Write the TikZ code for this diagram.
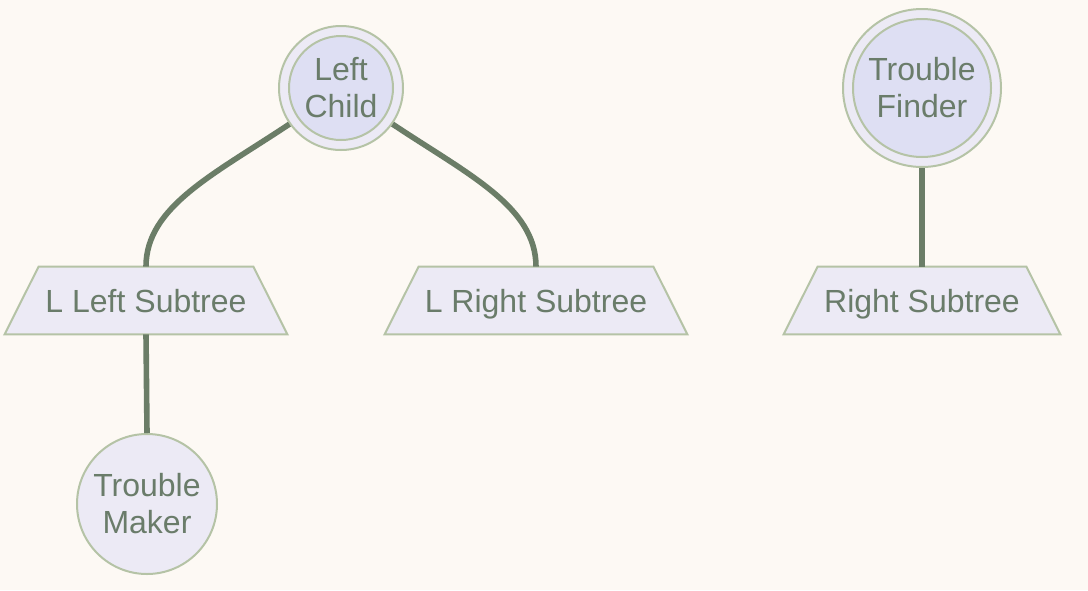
\documentclass[tikz,border=0pt]{standalone}
\usepackage{fontspec}
\setmainfont{Liberation Sans}
\usetikzlibrary{backgrounds}

\definecolor{bgcol}{HTML}{FDF9F4}
\definecolor{nodefill}{HTML}{ECEAF5}
\definecolor{innerfill}{HTML}{DEDFF3}
\definecolor{nodeline}{HTML}{B5C3A6}
\definecolor{txtcol}{HTML}{6A7C6A}
\definecolor{linkcol}{HTML}{6B7D67}

\tikzset{
  every node/.style={font=\fontsize{16pt}{18.5pt}\selectfont,text=txtcol,align=center},
  leaf/.style={circle,draw=nodeline,fill=nodefill,line width=1pt,inner sep=0pt},
  ring/.style={circle,draw=nodeline,fill=nodefill,line width=1pt,inner sep=0pt},
  core/.style={circle,draw=nodeline,fill=innerfill,line width=1pt,inner sep=0pt},
  subtree/.style={rectangle,minimum height=33.5pt,inner sep=0pt,text height=13.5pt,text depth=1.5pt},
  trapbox/.style={draw=nodeline,fill=nodefill,line width=1pt,line join=miter},
  link/.style={draw=linkcol,line width=2.8pt}
}

\begin{document}
\begin{tikzpicture}[x=0.5pt,y=-0.5pt]
    \node[ring,minimum size=62pt] (lco) at (341,88) {};
    \node[core,minimum size=52pt] (lc) at (341,88) {Left\\Child};
    \node[ring,minimum size=79pt] (tfo) at (922,88) {};
    \node[core,minimum size=69pt] (tf) at (922,88) {Trouble\\Finder};

    \node[subtree,minimum width=107pt] (lls) at (146,300.5) {L Left Subtree};
    \node[subtree,minimum width=117pt] (lrs) at (536,300.5) {L Right Subtree};
    \node[subtree,minimum width=104pt] (rs) at (922,300.5) {Right Subtree};

    \node[leaf,minimum size=70pt] (tm) at (147,504) {Trouble\\Maker};

    \begin{scope}[on background layer]
      \fill[bgcol] (0,0) rectangle (1088,590);
      \foreach \n in {lls,lrs,rs}
        \path[trapbox] (\n.north west) -- (\n.north east)
          -- ([xshift=17pt]\n.south east) -- ([xshift=-17pt]\n.south west) -- cycle;
    \end{scope}
    \useasboundingbox (0,0) rectangle (1088,590);

    \path[link] (lco.215) .. controls +(-75,50) and +(0,-60) .. (lls.north);
    \path[link] (lco.-35) .. controls +(75,50) and +(0,-60) .. (lrs.north);
    \path[link] (tfo.south) -- (rs.north);
    \path[link] (lls.south) -- (tm.north);
\end{tikzpicture}
\end{document}
